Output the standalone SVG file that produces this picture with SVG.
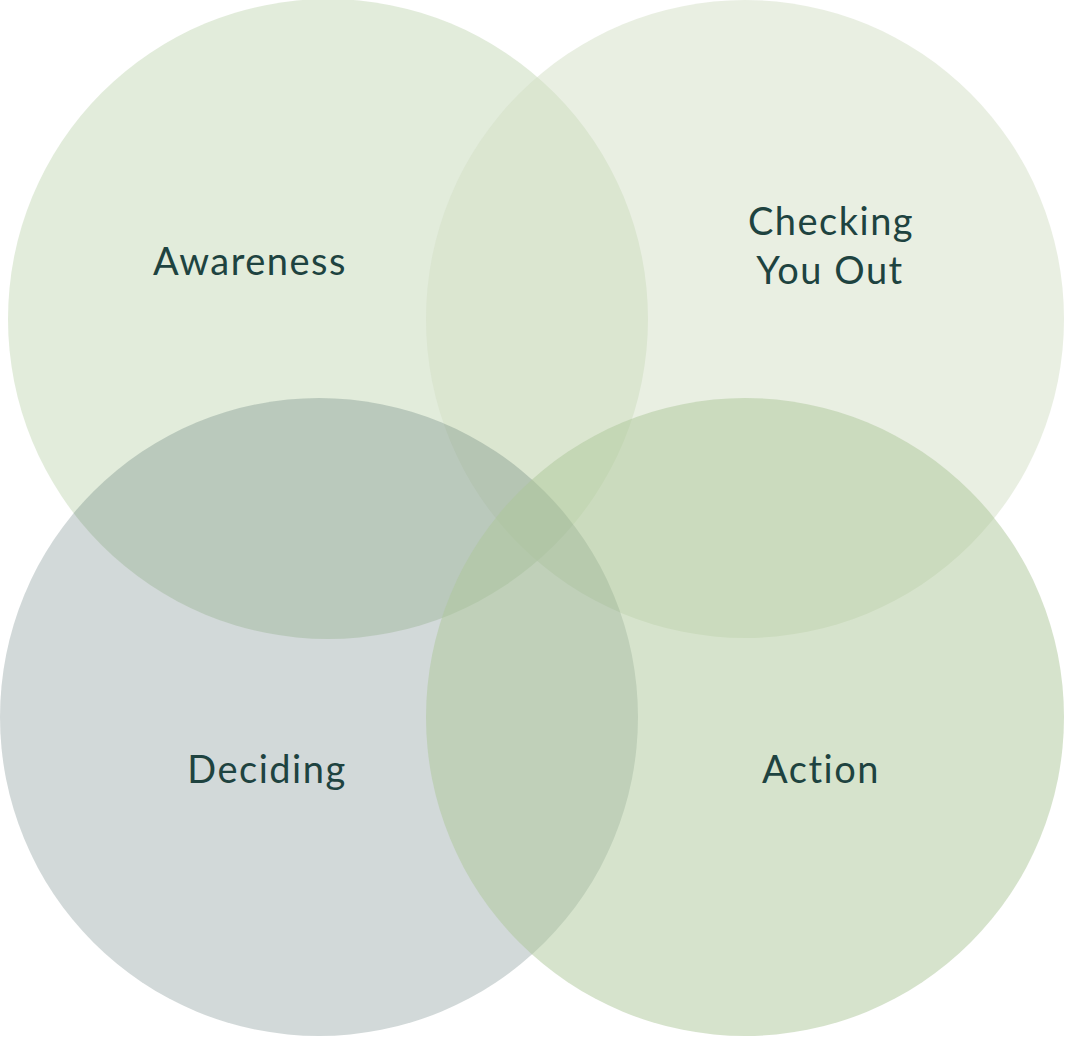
<svg xmlns="http://www.w3.org/2000/svg" width="1065" height="1037" viewBox="0 0 1065 1037">
<style>
.lbl{font-family:Lato,"Open Sans","Liberation Sans",sans-serif;font-size:38px;fill:#1e4340;text-anchor:middle;letter-spacing:1.5px}
</style>
<rect width="1065" height="1037" fill="#ffffff"/>
<g id="awareness">
<circle cx="328" cy="319" r="320" fill="#c5d9b7" fill-opacity="0.5"/>
</g>
<g id="checking">
<circle cx="745" cy="319" r="319" fill="#d3dfc5" fill-opacity="0.5"/>
</g>
<g id="deciding">
<circle cx="319" cy="717" r="319" fill="#1e4340" fill-opacity="0.2"/>
</g>
<g id="action">
<circle cx="745" cy="717" r="319" fill="#adc799" fill-opacity="0.5"/>
</g>
<g id="labels">
<text class="lbl" x="250" y="275">Awareness</text>
<text class="lbl" x="831" y="235">Checking</text>
<text class="lbl" x="830" y="284">You Out</text>
<text class="lbl" x="267" y="783">Deciding</text>
<text class="lbl" x="821" y="783">Action</text>
</g>
<g id="connectors"></g>
</svg>
